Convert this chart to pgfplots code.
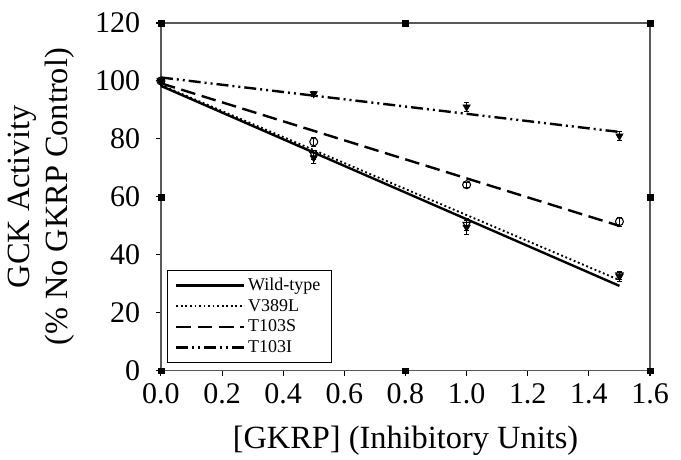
\documentclass[border=0pt]{standalone}
\usepackage{fontspec}
\setmainfont{Liberation Serif}
\usepackage{pgfplots}
\pgfplotsset{compat=1.18}

\begin{document}
\begin{tikzpicture}
\begin{axis}[
  name=main,
  scale only axis,
  width=367pt, height=261pt,
  xmin=0, xmax=1.6, ymin=0, ymax=120,
  xtick={0,0.2,...,1.6}, ytick={0,20,...,120},
  xticklabel style={yshift=-2pt, /pgf/number format/fixed,
    /pgf/number format/fixed zerofill, /pgf/number format/precision=1},
  /pgf/number format/assume math mode=true,
  tick label style={font=\fontsize{22.5}{26}\selectfont},
  yticklabel style={xshift=-8pt},
  label style={font=\fontsize{24.3}{28}\selectfont},
  xlabel={[GKRP] (Inhibitory Units)},
  ylabel={GCK Activity\\(\% No GKRP Control)},
  ylabel style={align=center, at={(axis description cs:-0.245,0.5)}, anchor=center},
  xlabel style={at={(axis description cs:0.5,-0.2)}, anchor=center},
  tick align=outside, xtick pos=bottom, ytick pos=left,
  major tick length=4pt,
  axis line style={gray!70!black, line width=0.9pt},
  tick style={black, line width=0.8pt},
  clip=false,
  legend style={at={(0.012,0.023)}, anchor=south west,
    font=\fontsize{13.5}{14}\selectfont, draw=black, line width=0.6pt,
    row sep=1pt, inner xsep=6pt, inner ysep=4pt,
    cells={anchor=west}},
  legend cell align=left,
  legend image code/.code={\draw[#1] (0pt,0pt) -- (51pt,0pt);},
]
% fitted lines
\addplot[black, line width=1.8pt] coordinates {(0,98.3) (1.5,29.3)};
\addlegendentry{Wild-type}
\addplot[black, line width=1.4pt, dotted] coordinates {(0,98.6) (1.5,31.3)};
\addlegendentry{V389L}
\addplot[black, line width=1.8pt, dash pattern=on 11pt off 5pt] coordinates {(0,99.2) (1.5,50.0)};
\addlegendentry{T103S}
\addplot[black, line width=1.8pt, dash pattern=on 9pt off 3pt on 1.5pt off 3pt on 1.5pt off 3pt] coordinates {(0,101.2) (1.5,82.4)};
\addlegendentry{T103I}

% data points
\addplot[only marks, black, mark=triangle*, mark options={rotate=180, scale=1.6},
  error bars/.cd, y dir=both, y explicit, error bar style={line width=0.8pt}]
  coordinates {(0,100) +- (0,0.5) (0.5,73.5) +- (0,2.0) (1.0,49.5) +- (0,2.5) (1.5,32.5) +- (0,1.5)};
\addplot[only marks, black, mark=triangle, mark options={rotate=180, scale=1.6, line width=0.8pt},
  error bars/.cd, y dir=both, y explicit, error bar style={line width=0.8pt}]
  coordinates {(0,100) +- (0,0.5) (0.5,74.5) +- (0,1.5) (1.0,50.5) +- (0,2.0) (1.5,33.0) +- (0,1.5)};
\addplot[only marks, black, mark=o, mark options={fill=white, scale=1.5, line width=0.8pt},
  error bars/.cd, y dir=both, y explicit, error bar style={line width=0.8pt}]
  coordinates {(0,100) +- (0,0.5) (0.5,79.0) +- (0,1.5) (1.0,64.2) +- (0,1.0) (1.5,51.5) +- (0,1.5)};
\addplot[only marks, black, mark=triangle*, mark options={rotate=180, scale=1.6},
  error bars/.cd, y dir=both, y explicit, error bar style={line width=0.8pt}]
  coordinates {(0,100) +- (0,0.5) (0.5,95.6) +- (0,1.0) (1.0,91.0) +- (0,1.5) (1.5,81.0) +- (0,1.5)};

% frame square markers
\addplot[only marks, black, mark=square*, mark size=2.2pt, forget plot]
  coordinates {(0,0) (0.8,0) (1.6,0) (0,120) (0.8,120) (1.6,120) (0,60) (1.6,60)};
\end{axis}
\pgfresetboundingbox
\path[use as bounding box] ([shift={(-120.75pt,-66.75pt)}]main.south west)
  rectangle ([shift={(23.25pt,17.25pt)}]main.north east);
\end{tikzpicture}
\end{document}
